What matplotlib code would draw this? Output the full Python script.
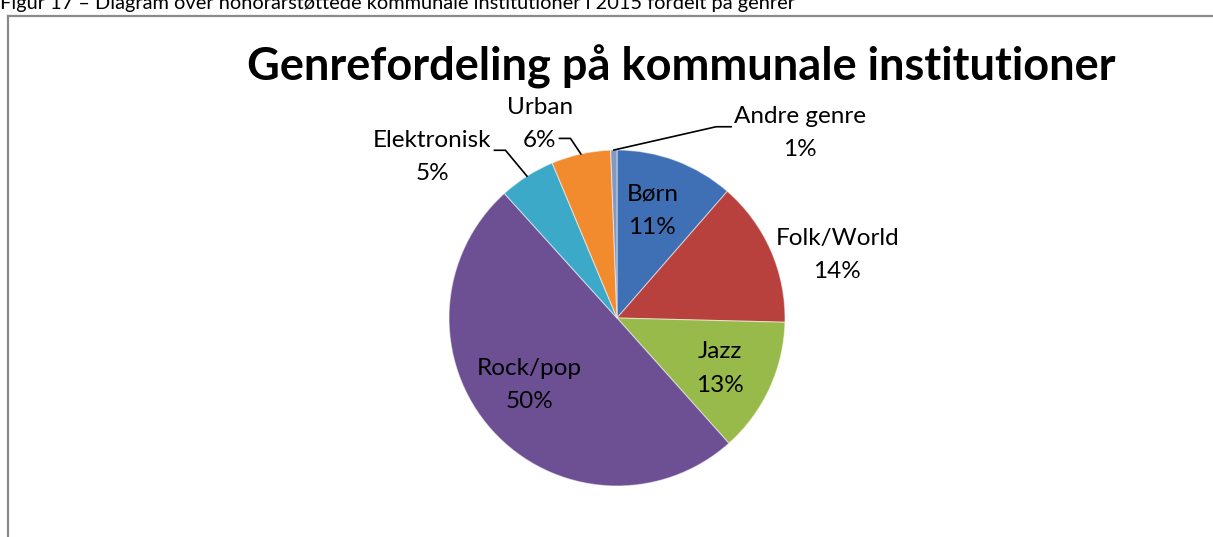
import matplotlib
matplotlib.use('Agg')
import matplotlib.pyplot as plt
from matplotlib.lines import Line2D
import numpy as np

plt.rcParams['font.family'] = ['Lato', 'DejaVu Sans']

# data (percent of institutions per genre)
genres = ["Børn", "Folk/World", "Jazz", "Rock/pop", "Elektronisk", "Urban", "Andre genre"]
shares = [11.4, 14.0, 13.0, 49.9, 5.4, 5.7, 0.6]
colors = ["#3F70B5", "#B9413D", "#97BA4A", "#6D5094", "#3DA9C9", "#F28B2E", "#8299C4"]

title = "Genrefordeling på kommunale institutioner"
caption = "Figur 17 – Diagram over honorarstøttede kommunale institutioner i 2015 fordelt på genrer"

W, H = 1213, 537
fig = plt.figure(figsize=(W / 100, H / 100), dpi=100)
ax = fig.add_axes([0, 0, 1, 1])

cx, cy, r = 617, H - 318, 168
wedges, _ = ax.pie(shares, colors=colors, startangle=90, counterclock=False,
                   center=(cx, cy), radius=r,
                   wedgeprops=dict(edgecolor=(1, 1, 1, 0.5), linewidth=0.8))
ax.set_xlim(0, W)
ax.set_ylim(0, H)
ax.set_aspect('equal')
ax.axis('off')

# label centres relative to pie centre, in radii
label_pos = [(0.21, 0.64), (1.31, 0.375), (0.61, -0.30), (-0.52, -0.40),
             (-1.10, 0.96), (-0.46, 1.155), (1.09, 1.10)]
# leader lines: (side of text, which line of text)
leaders = {4: ("right", 0), 5: ("right", 1), 6: ("left", 0)}
fs = 17.5
lsp = 1.72

texts = []
for i, (g, v) in enumerate(zip(genres, shares)):
    lx = cx + label_pos[i][0] * r
    ly = cy + label_pos[i][1] * r
    t = ax.text(lx, ly, f"{g}\n{round(v)}%", ha='center', va='center',
                multialignment='center', fontsize=fs, linespacing=lsp,
                color='black')
    texts.append(t)

fig.canvas.draw()
renderer = fig.canvas.get_renderer()
inv = ax.transData.inverted()
for i, (side, line) in leaders.items():
    w = wedges[i]
    mid = np.deg2rad((w.theta1 + w.theta2) / 2)
    ex, ey = cx + r * np.cos(mid), cy + r * np.sin(mid)
    lx, ly = texts[i].get_position()
    s = texts[i].get_text().split("\n")[line]
    tmp = ax.text(0, 0, s, fontsize=fs)
    tw = tmp.get_window_extent(renderer).width
    tmp.remove()
    half = inv.transform([(tw / 2, 0)])[0][0] - inv.transform([(0, 0)])[0][0]
    step = fs * lsp * 100 / 72 / 2
    yl = (ly + step / 2 if line == 0 else ly - step / 2) - 4
    if side == "right":
        xs = [lx + half + 3, lx + half + 14, ex]
    else:
        xs = [lx - half - 3, lx - half - 18, ex]
    ax.plot(xs, [yl, yl, ey], color='black', lw=1.2)

fig.text(681 / W, 1 - 67 / H, title, ha='center', va='center',
         fontsize=32.5, fontweight='bold')
fig.text(0.0, 1 - 3 / H, caption, ha='left', va='center', fontsize=14.4)

# frame of the chart area (top and left edges visible)
fig.add_artist(Line2D([8 / W, 1], [1 - 16 / H, 1 - 16 / H], color='#8A8A8A', lw=1.6))
fig.add_artist(Line2D([8 / W, 8 / W], [0, 1 - 16 / H], color='#8A8A8A', lw=1.6))

fig.savefig("out.png", dpi=100)
plt.close()
